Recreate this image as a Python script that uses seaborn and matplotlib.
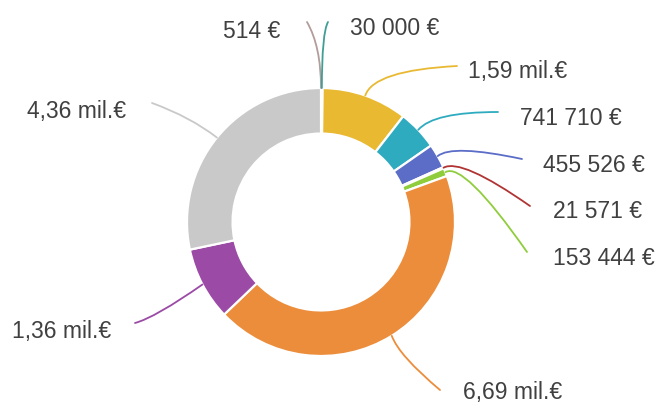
import numpy as np
import matplotlib
matplotlib.use("Agg")
import matplotlib.pyplot as plt
import seaborn as sns

sns.set_theme(style="white")
plt.rcParams['font.family'] = ['Liberation Sans', 'DejaVu Sans']

# Data (clockwise from top)
labels = ["514 €", "30 000 €", "1,59 mil.€", "741 710 €", "455 526 €",
          "21 571 €", "153 444 €", "6,69 mil.€", "1,36 mil.€", "4,36 mil.€"]
values = [514, 30000, 1590000, 741710, 455526, 21571, 153444, 6690000, 1360000, 4360000]
colors = ["#b39c9c", "#3f9e95", "#e9b932", "#2fabc0", "#5b6dc6", "#b13434",
          "#8fcd3c", "#ec8d3c", "#9b4aa6", "#c9c9c9"]

# Layout (pixel positions of labels, line ends, line curvature angles)
CX, CY, R = 321, 222, 134
W, H = 660, 404
label_pos = [(223, 38), (350, 35), (468, 78), (520, 125), (543, 172),
             (553, 218), (553, 265), (463, 399), (12, 338), (27, 118)]
line_end = [(307, 22), (328, 22), (457, 66), (498, 112), (522, 159),
            (530, 206), (527, 252), (440, 390), (135, 323), (152, 103)]
angA = [90, 90, 72, 50, 40, 30, 30, -70, 35, 142]
angB = [120, 60, 3, 0, -12, -35, -55, -40, 15, 160]


def px(p):
    return ((p[0] - CX) / R, (CY - p[1]) / R)


fig = plt.figure(figsize=(W / 100, H / 100), dpi=100)
ax = fig.add_axes([0, 0, 1, 1])
wedges, _ = ax.pie(values, colors=colors, startangle=90, counterclock=False,
                   radius=1, wedgeprops=dict(width=0.34, edgecolor="white", linewidth=1.6))
ax.set_xlim(-CX / R, (W - CX) / R)
ax.set_ylim(-(H - CY) / R, CY / R)
ax.set_aspect("equal")
ax.axis("off")

for i, w in enumerate(wedges):
    mid = np.deg2rad((w.theta1 + w.theta2) / 2)
    anchor = (np.cos(mid) * 1.0, np.sin(mid) * 1.0)
    end = px(line_end[i])
    ax.annotate("", xy=end, xytext=anchor,
                arrowprops=dict(arrowstyle="-", color=colors[i], lw=1.3,
                                shrinkA=0, shrinkB=0,
                                connectionstyle=f"angle3,angleA={angA[i]},angleB={angB[i]}"))
    tx, ty = px(label_pos[i])
    ax.text(tx, ty, labels[i], ha="left", va="baseline", fontsize=16.5, color="#404040")

fig.savefig("out.png", dpi=100, facecolor="white")
